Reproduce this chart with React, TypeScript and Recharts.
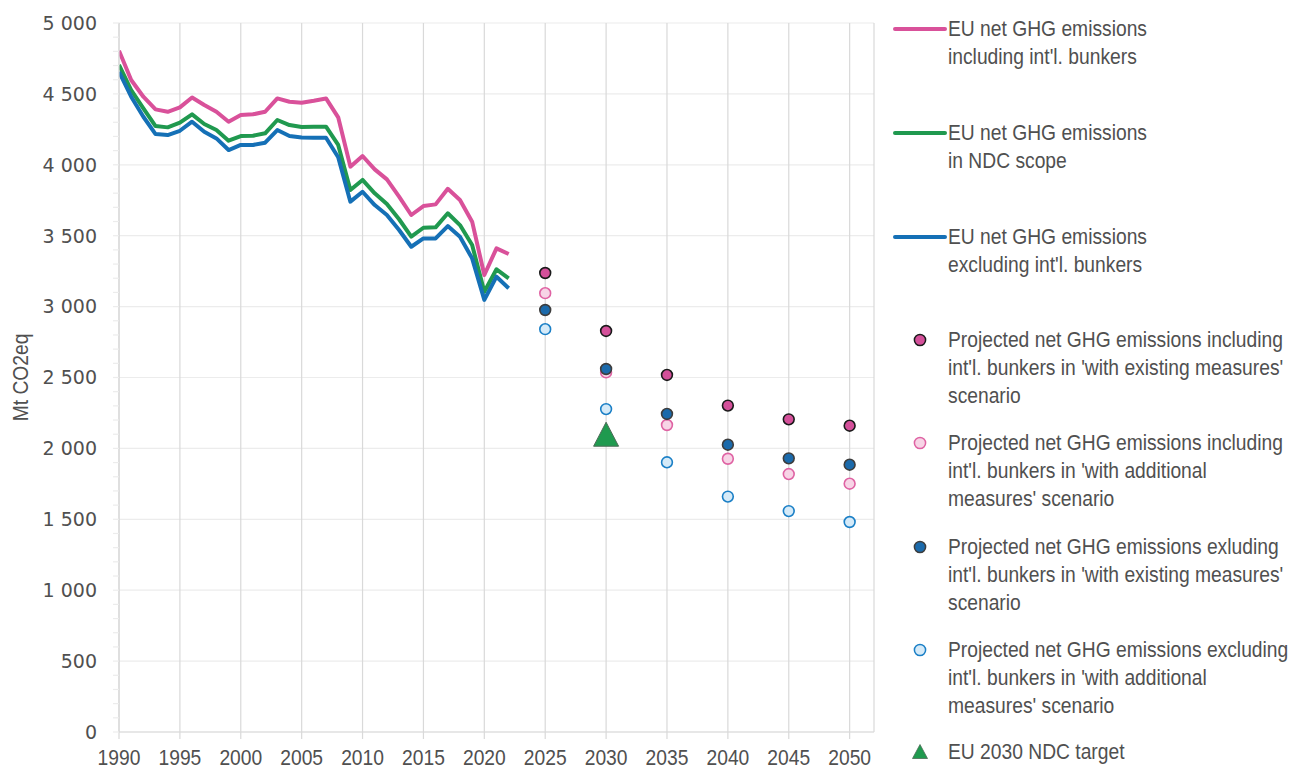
import React from 'react';
import { ComposedChart, Line, XAxis, YAxis, CartesianGrid, Legend } from 'recharts';

// ---------- DATA ----------
const histYears = [
  1990, 1991, 1992, 1993, 1994, 1995, 1996, 1997, 1998, 1999, 2000, 2001, 2002, 2003, 2004, 2005, 2006,
  2007, 2008, 2009, 2010, 2011, 2012, 2013, 2014, 2015, 2016, 2017, 2018, 2019, 2020, 2021, 2022,
];
const netInclBunkers = [
  4805, 4598, 4480, 4391, 4374, 4405, 4475, 4422, 4374, 4304, 4351, 4356, 4374, 4468, 4445, 4438, 4452,
  4468, 4335, 3987, 4062, 3968, 3897, 3775, 3646, 3709, 3721, 3831, 3752, 3599, 3223, 3411, 3371,
];
const netNdcScope = [
  4704, 4527, 4398, 4273, 4264, 4297, 4356, 4288, 4245, 4170, 4203, 4205, 4222, 4316, 4280, 4266, 4269,
  4269, 4140, 3822, 3893, 3799, 3723, 3616, 3493, 3556, 3559, 3658, 3575, 3434, 3105, 3263, 3199,
];
const netExclBunkers = [
  4656, 4480, 4339, 4217, 4210, 4240, 4304, 4233, 4186, 4104, 4140, 4140, 4156, 4245, 4203, 4192, 4191,
  4191, 4053, 3740, 3810, 3716, 3646, 3540, 3422, 3481, 3481, 3568, 3493, 3340, 3047, 3211, 3129,
];

const projYears = [2025, 2030, 2035, 2040, 2045, 2050];
const projInclWEM = [3237, 2828, 2518, 2302, 2205, 2160];
const projInclWAM = [3095, 2536, 2165, 1927, 1819, 1751];
const projExclWEM = [2976, 2560, 2243, 2026, 1930, 1885];
const projExclWAM = [2841, 2277, 1902, 1660, 1558, 1481];

const targetYear = 2030;
const targetValue = 2100;

const xTicks = [1990, 1995, 2000, 2005, 2010, 2015, 2020, 2025, 2030, 2035, 2040, 2045, 2050];
const yMajorTicks = [0, 500, 1000, 1500, 2000, 2500, 3000, 3500, 4000, 4500, 5000];
const yMinorTicks = Array.from({ length: 51 }, (_, i) => i * 100);

const legendLabels = [
  ['EU net GHG emissions', "including int'l. bunkers"],
  ['EU net GHG emissions', 'in NDC scope'],
  ['EU net GHG emissions', "excluding int'l. bunkers"],
  ['Projected net GHG emissions including', "int'l. bunkers in 'with existing measures'", 'scenario'],
  ['Projected net GHG emissions including', "int'l. bunkers in 'with additional", "measures' scenario"],
  ['Projected net GHG emissions exluding', "int'l. bunkers in 'with existing measures'", 'scenario'],
  ['Projected net GHG emissions excluding', "int'l. bunkers in 'with additional", "measures' scenario"],
  ['EU 2030 NDC target'],
];

// ---------- STYLE ----------
const C = {
  pink: '#d9519a',
  green: '#20994f',
  blue: '#1570b6',
  pWEMfill: '#d4509a',
  pWEMstroke: '#1a1a1a',
  pWAMfill: '#f7d4e6',
  pWAMstroke: '#df62a3',
  bWEMfill: '#1b6aab',
  bWEMstroke: '#3d3d3d',
  bWAMfill: '#d5eaf8',
  bWAMstroke: '#1a7fc6',
  triFill: '#1f9a4f',
  triStroke: '#4d6b57',
  text: '#505050',
  vgrid: '#d9d9d9',
  hgrid: '#ececec',
};
const SANS = '"Liberation Sans", Arial, sans-serif';
const SQUEEZE = 0.875;

const data: any[] = [
  ...histYears.map((y, i) => ({
    year: y,
    incl: netInclBunkers[i],
    ndc: netNdcScope[i],
    excl: netExclBunkers[i],
  })),
  ...projYears.map((y, i) => ({
    year: y,
    pWEM: projInclWEM[i],
    pWAM: projInclWAM[i],
    bWEM: projExclWEM[i],
    bWAM: projExclWAM[i],
    target: y === targetYear ? targetValue : null,
  })),
];

const fmt = (v: number) =>
  v >= 1000 ? `${Math.floor(v / 1000)} ${String(v % 1000).padStart(3, '0')}` : `${v}`;

const YTick = (props: any) => {
  const { x, y, payload } = props;
  if (payload.value % 500 !== 0) return <g />;
  return (
    <text x={x} y={y} dy="0.36em" textAnchor="end" fill={C.text} fontSize={19} fontFamily='"DejaVu Sans", sans-serif'>
      {fmt(payload.value)}
    </text>
  );
};

const XTick = (props: any) => {
  const { x, y, payload } = props;
  return (
    <text
      transform={`translate(${x},${y}) scale(${SQUEEZE},1)`}
      x={0}
      y={0}
      dy="0.71em"
      textAnchor="middle"
      fill={C.text}
      fontSize={22}
      fontFamily={SANS}
    >
      {payload.value}
    </text>
  );
};

const TriangleDot = (props: any) => {
  const { cx, cy, value, index } = props;
  if (value == null || cx == null || cy == null) return <g key={`t${index}`} />;
  const h = 12;
  return (
    <polygon
      key={`t${index}`}
      points={`${cx},${cy - h} ${cx - 12.5},${cy + h} ${cx + 12.5},${cy + h}`}
      fill={C.triFill}
      stroke={C.triStroke}
      strokeWidth={1}
    />
  );
};

const YLabel = (props: any) => {
  const { viewBox } = props;
  const x = viewBox.x - 19;
  const y = viewBox.y + viewBox.height / 2;
  return (
    <text
      transform={`translate(${x},${y}) rotate(-90) scale(${SQUEEZE},1)`}
      x={0}
      y={0}
      textAnchor="middle"
      dominantBaseline="central"
      fill={C.text}
      fontSize={22}
      fontFamily={SANS}
    >
      Mt CO2eq
    </text>
  );
};

type Marker = { kind: 'line' | 'dot' | 'tri'; color?: string; fill?: string; stroke?: string };
const legendMarkers: Marker[] = [
  { kind: 'line', color: C.pink },
  { kind: 'line', color: C.green },
  { kind: 'line', color: C.blue },
  { kind: 'dot', fill: C.pWEMfill, stroke: C.pWEMstroke },
  { kind: 'dot', fill: C.pWAMfill, stroke: C.pWAMstroke },
  { kind: 'dot', fill: C.bWEMfill, stroke: C.bWEMstroke },
  { kind: 'dot', fill: C.bWAMfill, stroke: C.bWAMstroke },
  { kind: 'tri', fill: C.triFill, stroke: C.triStroke },
];
// vertical centre of the first text line of each legend entry (layout)
const legendCenters = [29, 133, 237, 340, 443, 547, 650, 752];
const LH = 28.3;

const LegendContent = () => (
  <div style={{ position: 'relative', width: 414, height: 771 }}>
    {legendMarkers.map((m, i) => {
      const c = legendCenters[i];
      return (
        <React.Fragment key={i}>
          <svg style={{ position: 'absolute', left: 0, top: c - 14 }} width={60} height={28}>
            {m.kind === 'line' && <line x1={7} x2={57} y1={14} y2={14} stroke={m.color} strokeWidth={4} strokeLinecap="round" />}
            {m.kind === 'dot' && <circle cx={32} cy={14} r={5.6} fill={m.fill} stroke={m.stroke} strokeWidth={1.5} />}
            {m.kind === 'tri' && <polygon points="32,6.5 24.5,20.5 39.5,20.5" fill={m.fill} stroke={m.stroke} strokeWidth={0.8} />}
          </svg>
          <div
            style={{
              position: 'absolute',
              left: 60,
              top: c - LH / 2,
              lineHeight: `${LH}px`,
              fontSize: 22,
              fontFamily: SANS,
              color: C.text,
              whiteSpace: 'nowrap',
              transform: `scaleX(${SQUEEZE})`,
              transformOrigin: '0 0',
            }}
          >
            {legendLabels[i].map((t, j) => (
              <div key={j}>{t}</div>
            ))}
          </div>
        </React.Fragment>
      );
    })}
  </div>
);

const dotStyle = (fill: string, stroke: string) => ({ r: 5.4, fill, stroke, strokeWidth: 1.6 });

export default function App() {
  return (
    <div style={{ position: 'absolute', left: 0, top: 0 }}>
      <ComposedChart
        width={1302}
        height={771}
        data={data}
        margin={{ top: 23, right: 428, bottom: 4, left: 39 }}
      >
        <CartesianGrid horizontal={true} vertical={false} horizontalValues={yMajorTicks} stroke={C.hgrid} strokeWidth={1.2} />
        <CartesianGrid horizontal={false} vertical={true} verticalValues={[...xTicks, 2052]} stroke={C.vgrid} strokeWidth={1.2} />
        <XAxis
          dataKey="year"
          type="number"
          domain={[1990, 2052]}
          ticks={xTicks}
          interval={0}
          height={35}
          tick={<XTick />}
          tickSize={7}
          tickMargin={10}
          axisLine={{ stroke: C.vgrid, strokeWidth: 1.2 }}
          tickLine={{ stroke: C.vgrid, strokeWidth: 1.2 }}
          allowDataOverflow
        />
        <YAxis
          type="number"
          domain={[0, 5000]}
          ticks={yMinorTicks}
          interval={0}
          width={80}
          tick={<YTick />}
          tickSize={6}
          tickMargin={16}
          axisLine={{ stroke: C.vgrid, strokeWidth: 1.2 }}
          tickLine={{ stroke: C.hgrid, strokeWidth: 1.2 }}
          label={<YLabel />}
          allowDataOverflow
        />
        <Legend
          layout="vertical"
          align="center"
          verticalAlign="middle"
          content={<LegendContent />}
          wrapperStyle={{ left: 888, top: 0, width: 414, height: 771 }}
        />
        <Line dataKey="incl" stroke={C.pink} strokeWidth={4} dot={false} activeDot={false} isAnimationActive={false} strokeLinejoin="round" />
        <Line dataKey="ndc" stroke={C.green} strokeWidth={4} dot={false} activeDot={false} isAnimationActive={false} strokeLinejoin="round" />
        <Line dataKey="excl" stroke={C.blue} strokeWidth={4} dot={false} activeDot={false} isAnimationActive={false} strokeLinejoin="round" />
        <Line dataKey="pWEM" stroke="none" dot={dotStyle(C.pWEMfill, C.pWEMstroke)} activeDot={false} isAnimationActive={false} />
        <Line dataKey="pWAM" stroke="none" dot={dotStyle(C.pWAMfill, C.pWAMstroke)} activeDot={false} isAnimationActive={false} />
        <Line dataKey="bWEM" stroke="none" dot={dotStyle(C.bWEMfill, C.bWEMstroke)} activeDot={false} isAnimationActive={false} />
        <Line dataKey="bWAM" stroke="none" dot={dotStyle(C.bWAMfill, C.bWAMstroke)} activeDot={false} isAnimationActive={false} />
        <Line dataKey="target" stroke="none" dot={<TriangleDot />} activeDot={false} isAnimationActive={false} />
      </ComposedChart>
    </div>
  );
}
